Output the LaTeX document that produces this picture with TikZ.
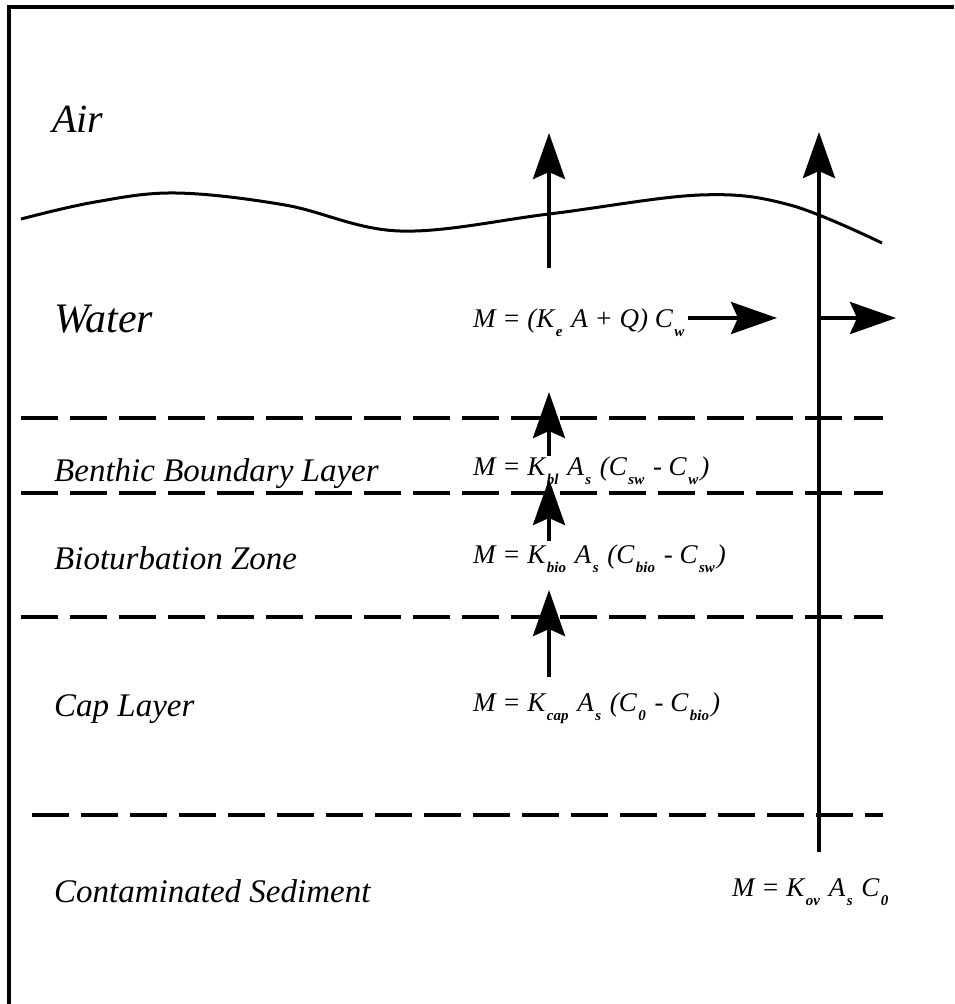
\documentclass[tikz,border=0pt]{standalone}
\usepackage{fontspec}
\setmainfont{Liberation Serif}
\usetikzlibrary{arrows.meta}
\newcommand{\lo}[1]{\kern1.5pt\raisebox{-0.34em}{\fontsize{15}{15}\selectfont\bfseries\itshape #1}\kern2pt\relax}
\begin{document}
\begin{tikzpicture}[x=1pt,y=-1pt,
  layer/.style={anchor=base west, inner sep=0pt, font=\fontsize{33}{33}\selectfont\itshape},
  biglayer/.style={anchor=base west, inner sep=0pt, font=\fontsize{42}{42}\selectfont\itshape},
  eq/.style={anchor=base west, inner sep=0pt, font=\fontsize{27}{27}\selectfont\itshape},
  flux/.style={line width=4pt, -{Stealth[length=46pt,width=32pt,inset=7pt]}},
  boundary/.style={line width=4pt, dash pattern=on 37pt off 12pt},
  frame/.style={line width=4pt},
  surface/.style={line width=3pt}]
\useasboundingbox (0,0) rectangle (954,1004);
\fill[white] (0,0) rectangle (954,1004);
% frame
\draw[frame] (9,1004) -- (9,7) -- (954,7);
% water surface
\draw[surface] plot[smooth, tension=0.6] coordinates {(21,219) (95,202) (176,193) (285,205) (400,231) (549,214) (700,195) (790,205) (882,243)};
% boundaries
\draw[boundary] (21,418) -- (883,418);
\draw[boundary] (21,493) -- (883,493);
\draw[boundary] (21,617) -- (883,617);
\draw[boundary] (32,815) -- (883,815);
% labels
\node[biglayer, font=\fontsize{40}{40}\selectfont\itshape] (air) at (52,132) {Air};
\node[biglayer] (water) at (54,332) {Water};
\node[layer] (bbl) at (54,481) {Benthic Boundary Layer};
\node[layer] (bio) at (54,569) {Bioturbation Zone};
\node[layer] (cap) at (54,716) {Cap Layer};
\node[layer] (sed) at (54,902) {Contaminated Sediment};
% equations
\node[eq] (eqw) at (473,327) {M = (K\lo{e} A + Q) C\lo{w}};
\node[eq] (eqbl) at (473,475) {M = K\lo{bl} A\lo{s} (C\lo{sw} - C\lo{w})};
\node[eq] (eqbio) at (473,563) {M = K\lo{bio} A\lo{s} (C\lo{bio} - C\lo{sw})};
\node[eq] (eqcap) at (473,711) {M = K\lo{cap} A\lo{s} (C\lo{0} - C\lo{bio})};
\node[eq] (eqov) at (732,896) {M = K\lo{ov} A\lo{s} C\lo{0}};
% arrow end points
\coordinate (a1s) at (549,268); \coordinate (a1t) at (549,133);
\coordinate (a2s) at (549,456); \coordinate (a2t) at (549,392);
\coordinate (a3s) at (549,541); \coordinate (a3t) at (549,479);
\coordinate (a4s) at (549,677); \coordinate (a4t) at (549,590);
\coordinate (rvs) at (819,852); \coordinate (rvt) at (819,132);
\coordinate (h1s) at (688,318); \coordinate (h1t) at (777,318);
\coordinate (h2s) at (817,318); \coordinate (h2t) at (896,318);
\draw[flux] (a1s) -- (a1t);
\draw[flux] (a2s) -- (a2t);
\draw[flux] (a3s) -- (a3t);
\draw[flux] (a4s) -- (a4t);
\draw[flux] (rvs) -- (rvt);
\draw[flux] (h1s) -- (h1t);
\draw[flux] (h2s) -- (h2t);
\end{tikzpicture}
\end{document}
